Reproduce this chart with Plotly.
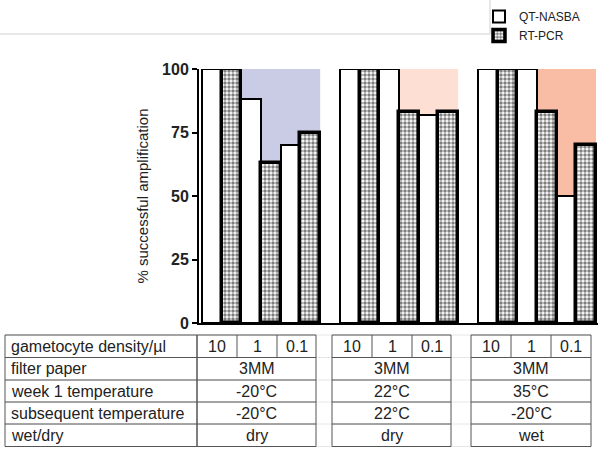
import plotly.graph_objects as go

# ---- data ----
densities = ["10", "1", "0.1"]
qt_nasba = [[100, 88, 70], [100, 100, 82], [100, 100, 50]]
rt_pcr = [[100, 63, 75], [100, 83, 83], [100, 83, 70]]
filter_paper = ["3MM", "3MM", "3MM"]
week1_temp = ["-20°C", "22°C", "35°C"]
subsequent_temp = ["-20°C", "22°C", "-20°C"]
wet_dry = ["dry", "dry", "wet"]
row_labels = ["gametocyte density/µl", "filter paper", "week 1 temperature",
              "subsequent temperature", "wet/dry"]
y_ticks = [0, 25, 50, 75, 100]
shade_colors = ["#c9cce4", "#fddfd4", "#f9bda5"]

W, H = 600, 452
L, R, T, B = 199, 2, 69, 129
PW, PH = W - L - R, H - T - B


def px_x(p):
    return (p - L) / PW


def px_y(p):
    return (H - B - p) / PH


def pos(g, d, s):
    return g * 7 + d * 2 + s


fig = go.Figure()
qx, qy, rx, ry = [], [], [], []
for g in range(3):
    for d in range(3):
        qx.append(pos(g, d, 0)); qy.append(qt_nasba[g][d])
        rx.append(pos(g, d, 1)); ry.append(rt_pcr[g][d])

fig.add_trace(go.Bar(x=qx, y=qy, width=1, name="QT-NASBA",
                     marker=dict(color="white", line=dict(color="black", width=2))))
fig.add_trace(go.Bar(x=rx, y=ry, width=1, name="RT-PCR",
                     marker=dict(color="white", line=dict(color="black", width=3.5),
                                 pattern=dict(shape=".", fgcolor="black", bgcolor="white",
                                              size=4, solidity=0.6))))

shapes = []
# shaded regions (from data)
for g in range(3):
    vals = []
    for d in (1, 2):
        vals.append((pos(g, d, 0), qt_nasba[g][d]))
        vals.append((pos(g, d, 1), rt_pcr[g][d]))
    x0 = vals[0][0] - 0.5
    x1 = vals[-1][0] + 0.5
    path = f"M {x0},100 L {x1},100"
    for c, v in reversed(vals):
        path += f" L {c+0.5},{v} L {c-0.5},{v}"
    path += " Z"
    shapes.append(dict(type="path", path=path, xref="x", yref="y", layer="below",
                       fillcolor=shade_colors[g], line=dict(width=0)))

# legend frame lines
shapes.append(dict(type="line", xref="paper", yref="paper", x0=px_x(0), x1=px_x(490),
                   y0=px_y(34), y1=px_y(34), line=dict(color="#d0d0d0", width=1)))
shapes.append(dict(type="line", xref="paper", yref="paper", x0=px_x(490), x1=px_x(490),
                   y0=px_y(0), y1=px_y(34), line=dict(color="#d0d0d0", width=1)))

# table
row_y = [335, 357.5, 380, 402, 424, 446.5]
groups_px = [(197, 237, 277, 316), (332, 372, 412, 451), (471, 511, 551, 591)]
line_c = "#555555"
# faint continuation lines across gaps
for yv in row_y:
    shapes.append(dict(type="line", xref="paper", yref="paper", x0=px_x(5), x1=px_x(591),
                       y0=px_y(yv), y1=px_y(yv), line=dict(color="#e6e6e6", width=1),
                       layer="below"))
# label column box
shapes.append(dict(type="rect", xref="paper", yref="paper", x0=px_x(5), x1=px_x(197),
                   y0=px_y(row_y[0]), y1=px_y(row_y[-1]), line=dict(color=line_c, width=1)))
for yv in row_y[1:-1]:
    shapes.append(dict(type="line", xref="paper", yref="paper", x0=px_x(5), x1=px_x(197),
                       y0=px_y(yv), y1=px_y(yv), line=dict(color=line_c, width=1)))
for gx in groups_px:
    shapes.append(dict(type="rect", xref="paper", yref="paper", x0=px_x(gx[0]), x1=px_x(gx[3]),
                       y0=px_y(row_y[0]), y1=px_y(row_y[-1]), line=dict(color=line_c, width=1)))
    for yv in row_y[1:-1]:
        shapes.append(dict(type="line", xref="paper", yref="paper", x0=px_x(gx[0]), x1=px_x(gx[3]),
                           y0=px_y(yv), y1=px_y(yv), line=dict(color=line_c, width=1)))
    for xv in gx[1:3]:
        shapes.append(dict(type="line", xref="paper", yref="paper", x0=px_x(xv), x1=px_x(xv),
                           y0=px_y(row_y[0]), y1=px_y(row_y[1]), line=dict(color=line_c, width=1)))

annotations = []
tfont = dict(family="Arial, Liberation Sans, sans-serif", size=16, color="#222222")
for i, lab in enumerate(row_labels):
    yc = (row_y[i] + row_y[i + 1]) / 2
    annotations.append(dict(text=lab, xref="paper", yref="paper", x=px_x(9), y=px_y(yc),
                            xanchor="left", yanchor="middle", showarrow=False, font=tfont))
rows_vals = [filter_paper, week1_temp, subsequent_temp, wet_dry]
for g, gx in enumerate(groups_px):
    yc = (row_y[0] + row_y[1]) / 2
    for d in range(3):
        xc = (gx[d] + gx[d + 1]) / 2
        annotations.append(dict(text=densities[d], xref="paper", yref="paper", x=px_x(xc),
                                y=px_y(yc), xanchor="center", yanchor="middle",
                                showarrow=False, font=tfont))
    for r, vals in enumerate(rows_vals):
        yc = (row_y[r + 1] + row_y[r + 2]) / 2
        annotations.append(dict(text=vals[g], xref="paper", yref="paper",
                                x=px_x((gx[0] + gx[3]) / 2), y=px_y(yc), xanchor="center",
                                yanchor="middle", showarrow=False, font=tfont))

fig.update_layout(
    width=W, height=H,
    margin=dict(l=L, r=R, t=T, b=B, autoexpand=False),
    paper_bgcolor="white", plot_bgcolor="white",
    barmode="overlay", bargap=0,
    showlegend=True,
    legend=dict(x=px_x(479), y=px_y(2), xanchor="left", yanchor="top",
                font=dict(family="Arial, Liberation Sans, sans-serif", size=12, color="#222"),
                bgcolor="rgba(0,0,0,0)", tracegroupgap=0, itemwidth=30),
    shapes=shapes,
    annotations=annotations,
    xaxis=dict(range=[-0.65, 19.6], showticklabels=False, ticks="", showgrid=False,
               zeroline=False, showline=True, linecolor="black", linewidth=2),
    yaxis=dict(range=[0, 100], tickvals=y_ticks, ticks="outside", ticklen=5, tickwidth=2,
               tickcolor="black", showgrid=False, zeroline=False, showline=True,
               linecolor="black", linewidth=2,
               tickfont=dict(family="Arial, Liberation Sans, sans-serif", size=16,
                             color="#222", weight="bold"),
               title=dict(text="% successful amplification", standoff=10,
                          font=dict(family="Arial, Liberation Sans, sans-serif", size=15,
                                    color="#222"))),
)

fig.write_html("out.html", config={"displayModeBar": False},
               post_script="document.body.style.margin='0';document.body.style.overflow='hidden';")
